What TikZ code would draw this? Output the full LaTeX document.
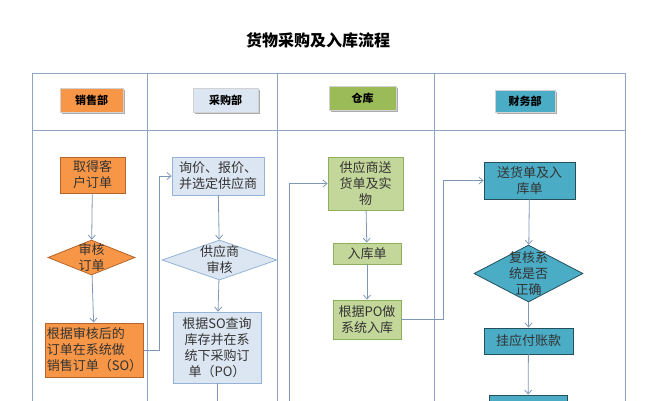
\documentclass[tikz,border=0pt]{standalone}
\usepackage{fontspec}
\setmainfont{Noto Sans CJK SC}
\usetikzlibrary{shapes.geometric,arrows.meta,shadows}
\definecolor{laneline}{HTML}{8DA5C3}
\definecolor{flowline}{HTML}{7F97B6}
\definecolor{salesfill}{HTML}{F79646}
\definecolor{salesdraw}{HTML}{B5652B}
\definecolor{buyfill}{HTML}{DCE6F2}
\definecolor{buydraw}{HTML}{95B3D7}
\definecolor{storehead}{HTML}{9BBB59}
\definecolor{storefill}{HTML}{C4D79B}
\definecolor{storedraw}{HTML}{8FB05A}
\definecolor{finfill}{HTML}{4BACC6}
\definecolor{findraw}{HTML}{23505C}
\tikzset{
  lane/.style={draw=laneline, line width=0.8pt},
  head/.style={draw=gray!35, minimum height=24bp, inner sep=1bp,
    font=\fontsize{11bp}{13bp}\selectfont\bfseries,
    drop shadow={shadow xshift=2bp, shadow yshift=-2bp, fill=gray!65, opacity=1}},
  box/.style={draw, line width=0.8pt, inner sep=1bp, align=center,
    font=\fontsize{13bp}{16bp}\selectfont, text=black!80},
  dia/.style={diamond, draw, line width=0.8pt, inner sep=0pt},
  diatext/.style={align=center, inner sep=0pt,
    font=\fontsize{13bp}{16bp}\selectfont, text=black!80},
  flow/.style={draw=flowline, line width=0.8pt, -{Straight Barb[length=4bp,width=7bp]}},
}
\begin{document}
\begin{tikzpicture}[x=1bp,y=-1bp]
  \useasboundingbox (0,0) rectangle (667,400);
  % title
  \node[font=\fontsize{16bp}{18bp}\selectfont\bfseries] (title) at (318,40) {货物采购及入库流程};

  % swimlanes
  \draw[lane] (32,430) -- (32,73) -- (625,73) -- (625,430);
  \draw[lane] (32,130) -- (625,130);
  \draw[lane] (147,73) -- (147,430);
  \draw[lane] (277,73) -- (277,430);
  \draw[lane] (434,73) -- (434,430);

  % lane headers
  \node[head, fill=salesfill, minimum width=63bp] (hsales) at (91.5,100) {销售部};
  \node[head, fill=buyfill, minimum width=65bp] (hbuy) at (225.5,100) {采购部};
  \node[head, fill=storehead, minimum width=67bp] (hstore) at (362.5,98) {仓库};
  \node[head, fill=finfill, minimum width=60bp, minimum height=22bp] (hfin) at (525,101) {财务部};

  % sales
  \node[box, fill=salesfill, draw=salesdraw, minimum width=65bp, minimum height=36bp] (order) at (92.5,175) {取得客\\户订单};
  \node[dia, fill=salesfill, draw=salesdraw, minimum width=87bp, minimum height=35bp,
    label={[diatext]center:{审核\\订单}}] (check) at (91.5,257.5) {};
  \node[box, fill=salesfill, draw=salesdraw, minimum width=93bp, minimum height=54bp, align=left] (so) at (94.5,350) {根据审核后的\\订单在系统做\\销售订单（SO）};

  % purchasing
  \node[box, fill=buyfill, draw=buydraw, minimum width=92bp, minimum height=38bp] (quote) at (218,176) {询价、报价、\\并选定供应商};
  \node[dia, fill=buyfill, draw=buydraw, minimum width=115bp, minimum height=40bp,
    label={[diatext]center:{供应商\\审核}}] (audit) at (219.5,260) {};
  \node[box, fill=buyfill, draw=buydraw, minimum width=88bp, minimum height=71bp] (po) at (217,347.5) {根据SO查询\\库存并在系\\统下采购订\\单（PO）};

  % warehouse
  \node[box, fill=storefill, draw=storedraw, minimum width=75bp, minimum height=53bp] (deliver) at (365.5,183.5) {供应商送\\货单及实\\物};
  \node[box, fill=storefill, draw=storedraw, minimum width=68bp, minimum height=21bp] (receipt) at (367,253.5) {入库单};
  \node[box, fill=storefill, draw=storedraw, minimum width=68bp, minimum height=39bp] (stockin) at (367,319.5) {根据PO做\\系统入库};

  % finance
  \node[box, fill=finfill, draw=findraw, minimum width=91bp, minimum height=37bp] (docs) at (529.5,180.5) {送货单及入\\库单};
  \node[dia, fill=finfill, draw=findraw, minimum width=109bp, minimum height=57bp,
    label={[diatext]center:{复核系\\统是否\\正确}}] (verify) at (528.5,273.5) {};
  \node[box, fill=finfill, draw=findraw, minimum width=89bp, minimum height=26bp] (payable) at (528.5,341) {挂应付账款};
  \node[box, fill=finfill, draw=findraw, minimum width=78bp, minimum height=30bp] (next) at (528,410) {};

  % connectors
  \coordinate (pobend) at (289,430);
  \draw[flow] (order) -- (check);
  \draw[flow] (check) -- (so);
  \draw[flow] (so.east) -- ++(16,0) |- (quote.west);
  \draw[flow] (quote) -- (audit);
  \draw[flow] (audit) -- (po);
  \draw[flow] (po.south) |- (pobend) |- (deliver.west);
  \draw[flow] (deliver) -- (receipt);
  \draw[flow] (receipt) -- (stockin);
  \draw[flow] (stockin.east) -- ++(42,0) |- (docs.west);
  \draw[flow] (docs) -- (verify);
  \draw[flow] (verify) -- (payable);
  \draw[flow] (payable) -- (next);
\end{tikzpicture}
\end{document}
